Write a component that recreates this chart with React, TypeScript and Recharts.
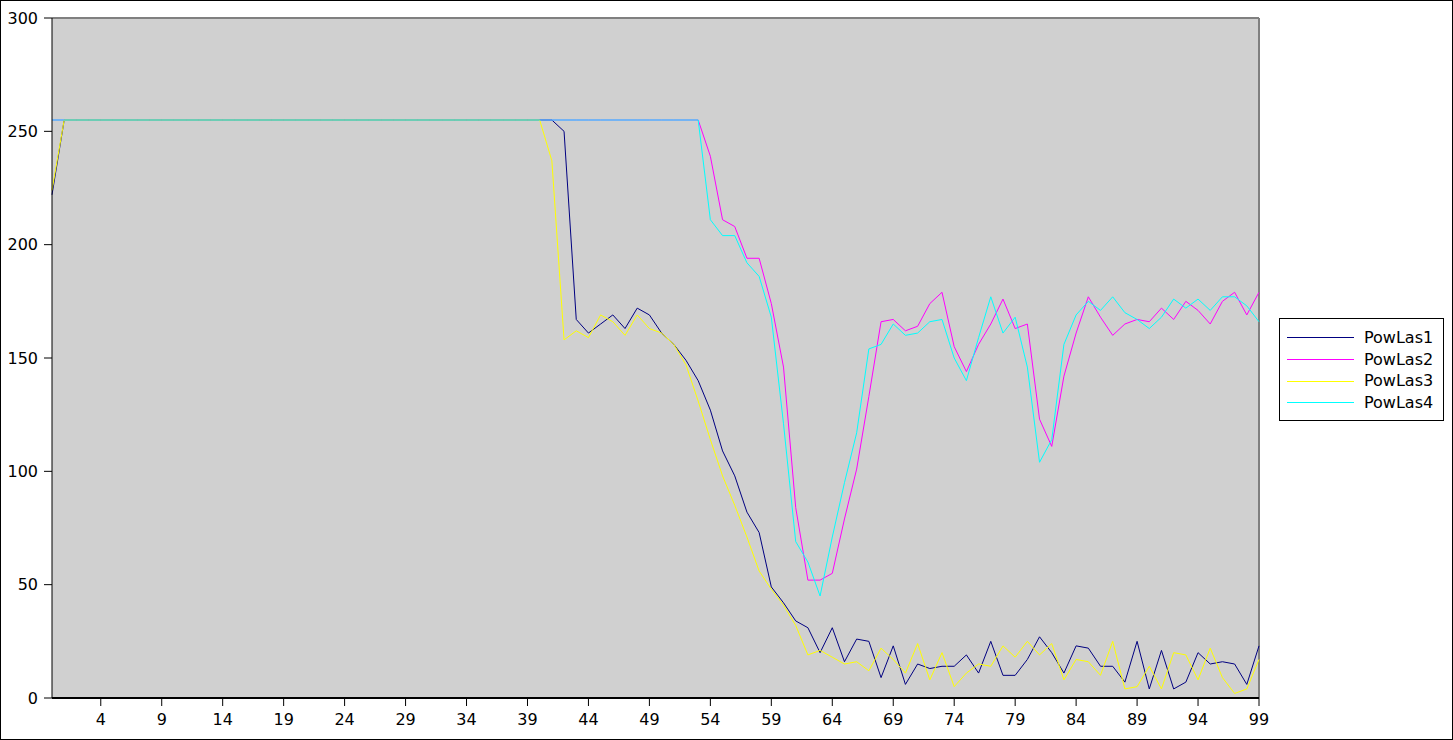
import React from 'react';
import { LineChart, Line, XAxis, YAxis, CartesianGrid, Legend, ReferenceLine } from 'recharts';

// measured laser power per sample index 0..99
const powLas1 = [
  222, 255, 255, 255, 255, 255, 255, 255, 255, 255,
  255, 255, 255, 255, 255, 255, 255, 255, 255, 255,
  255, 255, 255, 255, 255, 255, 255, 255, 255, 255,
  255, 255, 255, 255, 255, 255, 255, 255, 255, 255,
  255, 255, 250, 167, 161, 165, 169, 163, 172, 169,
  161, 156, 149, 140, 127, 109, 98, 82, 73, 49,
  42, 34, 31, 20, 31, 16, 26, 25, 9, 23,
  6, 15, 13, 14, 14, 19, 11, 25, 10, 10,
  17, 27, 20, 11, 23, 22, 14, 14, 7, 25,
  4, 21, 4, 7, 20, 15, 16, 15, 6, 23,
];

const powLas2 = [
  255, 255, 255, 255, 255, 255, 255, 255, 255, 255,
  255, 255, 255, 255, 255, 255, 255, 255, 255, 255,
  255, 255, 255, 255, 255, 255, 255, 255, 255, 255,
  255, 255, 255, 255, 255, 255, 255, 255, 255, 255,
  255, 255, 255, 255, 255, 255, 255, 255, 255, 255,
  255, 255, 255, 255, 239, 211, 208, 194, 194, 174,
  146, 84, 52, 52, 55, 79, 101, 133, 166, 167,
  162, 164, 174, 179, 155, 144, 156, 165, 176, 163,
  165, 123, 111, 142, 161, 177, 168, 160, 165, 167,
  166, 172, 167, 175, 171, 165, 175, 179, 169, 179,
];

const powLas3 = [
  224, 255, 255, 255, 255, 255, 255, 255, 255, 255,
  255, 255, 255, 255, 255, 255, 255, 255, 255, 255,
  255, 255, 255, 255, 255, 255, 255, 255, 255, 255,
  255, 255, 255, 255, 255, 255, 255, 255, 255, 255,
  255, 237, 158, 162, 159, 169, 166, 160, 169, 163,
  161, 156, 147, 131, 114, 98, 85, 71, 56, 48,
  41, 32, 19, 21, 18, 15, 16, 12, 22, 17,
  11, 24, 8, 20, 5, 11, 15, 14, 23, 18,
  25, 19, 24, 8, 17, 16, 10, 25, 4, 5,
  14, 4, 20, 19, 8, 22, 9, 2, 4, 17,
];

const powLas4 = [
  255, 255, 255, 255, 255, 255, 255, 255, 255, 255,
  255, 255, 255, 255, 255, 255, 255, 255, 255, 255,
  255, 255, 255, 255, 255, 255, 255, 255, 255, 255,
  255, 255, 255, 255, 255, 255, 255, 255, 255, 255,
  255, 255, 255, 255, 255, 255, 255, 255, 255, 255,
  255, 255, 255, 255, 211, 204, 204, 192, 186, 168,
  121, 69, 60, 45, 71, 95, 117, 154, 156, 165,
  160, 161, 166, 167, 150, 140, 159, 177, 161, 168,
  146, 104, 114, 156, 169, 175, 171, 177, 170, 167,
  163, 168, 176, 172, 176, 171, 177, 177, 173, 166,
];

const xTicks = [4, 9, 14, 19, 24, 29, 34, 39, 44, 49, 54, 59, 64, 69, 74, 79, 84, 89, 94, 99];
const yTicks = [0, 50, 100, 150, 200, 250, 300];

const series = [
  { key: 'PowLas1', color: '#000080' },
  { key: 'PowLas2', color: '#ff00ff' },
  { key: 'PowLas3', color: '#ffff00' },
  { key: 'PowLas4', color: '#00ffff' },
];

const data = powLas1.map((v, i) => ({
  idx: i,
  PowLas1: v,
  PowLas2: powLas2[i],
  PowLas3: powLas3[i],
  PowLas4: powLas4[i],
}));

const font = 'DejaVu Sans';
const tickStyle = { fill: '#000', fontSize: 16, fontFamily: font };

const LegendBox = () => (
  <div style={{
    width: 165, height: 103, boxSizing: 'border-box', border: '1px solid #000',
    background: '#fff', paddingTop: 8, fontFamily: font, fontSize: 16, color: '#000',
  }}>
    {series.map(s => (
      <div key={s.key} style={{ display: 'flex', alignItems: 'center', height: 21.7 }}>
        <div style={{ marginLeft: 7, width: 67, height: 1, background: s.color }} />
        <span style={{ marginLeft: 10, lineHeight: '16px' }}>{s.key}</span>
      </div>
    ))}
  </div>
);

export default function App() {
  return (
    <div style={{ position: 'absolute', left: 0, top: 0, width: 1453, height: 740, background: '#fff' }}>
      {/* legend width (165) is added to the right offset by recharts */}
      <LineChart width={1453} height={740} data={data} margin={{ top: 18, right: 29, bottom: 0, left: 0 }}>
        <CartesianGrid horizontal={false} vertical={false} fill="#d0d0d0" stroke="none" />
        <XAxis
          dataKey="idx" type="number" domain={[0, 99]} ticks={xTicks} interval={0}
          height={42} tickSize={8} tickMargin={8} tick={tickStyle}
          axisLine={{ stroke: '#000', strokeWidth: 2 }} tickLine={{ stroke: '#000' }}
        />
        <YAxis
          type="number" domain={[0, 300]} ticks={yTicks} interval={0}
          width={52} tickSize={8} tickMargin={6} tick={tickStyle}
          axisLine={{ stroke: '#000' }} tickLine={{ stroke: '#000' }}
        />
        <ReferenceLine y={300} stroke="#808080" strokeWidth={2} />
        <ReferenceLine x={99} stroke="#808080" strokeWidth={2} />
        {series.map(s => (
          <Line
            key={s.key} type="linear" dataKey={s.key} stroke={s.color} strokeWidth={1}
            dot={false} activeDot={false} isAnimationActive={false}
          />
        ))}
        <Legend
          layout="vertical" align="right" verticalAlign="middle"
          content={<LegendBox />}
          wrapperStyle={{ left: 1279, top: 318, width: 165, height: 103 }}
        />
      </LineChart>
      <div style={{
        position: 'absolute', left: 0, top: 0, width: 1453, height: 740,
        boxSizing: 'border-box', border: '1px solid #000', pointerEvents: 'none',
      }} />
    </div>
  );
}
